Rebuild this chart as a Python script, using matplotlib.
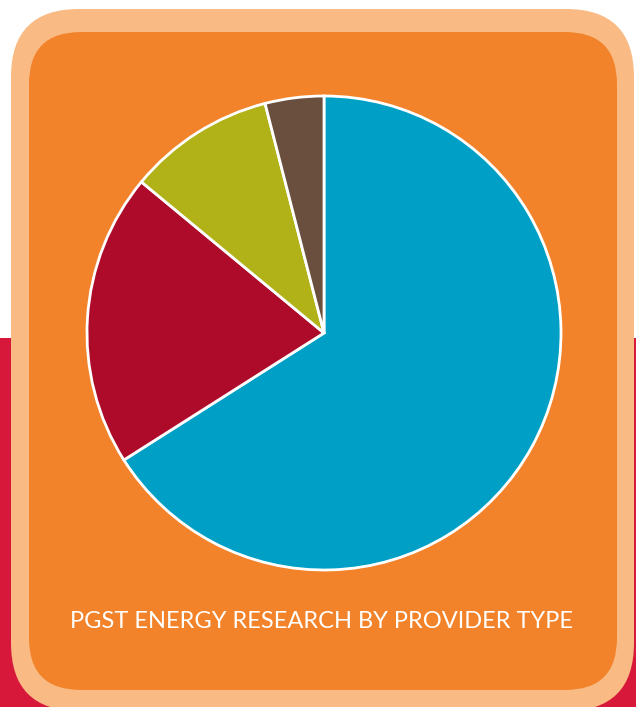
import matplotlib.pyplot as plt
from matplotlib.patches import FancyBboxPatch, Rectangle

# data (percent share by provider type)
providers = ["Provider A", "Provider B", "Provider C", "Provider D"]
shares = [66, 20, 10, 4]
slice_colors = ["#00A0C6", "#AE0A2A", "#B0B217", "#6A4F3E"]

title = "PGST ENERGY RESEARCH BY PROVIDER TYPE"

W, H = 636, 707

fig = plt.figure(figsize=(W / 100, H / 100), dpi=100)
ax = fig.add_axes([0, 0, 1, 1])
ax.set_xlim(0, W)
ax.set_ylim(0, H)
ax.set_aspect("equal")
ax.axis("off")

# background: white top, red band below
fig.patch.set_facecolor("white")
ax.add_patch(Rectangle((0, 0), W, H - 338, facecolor="#D8183A", edgecolor="none", zorder=0))

# peach frame + orange card
ax.add_patch(FancyBboxPatch((11, -4), 623, H - 9 + 4, boxstyle="round,pad=0,rounding_size=68",
                            facecolor="#F9BA83", edgecolor="none", zorder=1))
ax.add_patch(FancyBboxPatch((29, H - 690), 588, 690 - 32, boxstyle="round,pad=0,rounding_size=52",
                            facecolor="#F3832A", edgecolor="none", zorder=2))

# pie
wedges, _ = ax.pie(shares, colors=slice_colors, startangle=90, counterclock=False,
                   center=(324, H - 333), radius=237, frame=True,
                   wedgeprops=dict(edgecolor="white", linewidth=2))
for w in wedges:
    w.set_zorder(3)
ax.set_xlim(0, W)
ax.set_ylim(0, H)
ax.axis("off")

ax.text(322, H - 622, title, color="white", fontsize=17, family="Lato",
        ha="center", va="center", zorder=4)

fig.savefig("out.png", dpi=100)
